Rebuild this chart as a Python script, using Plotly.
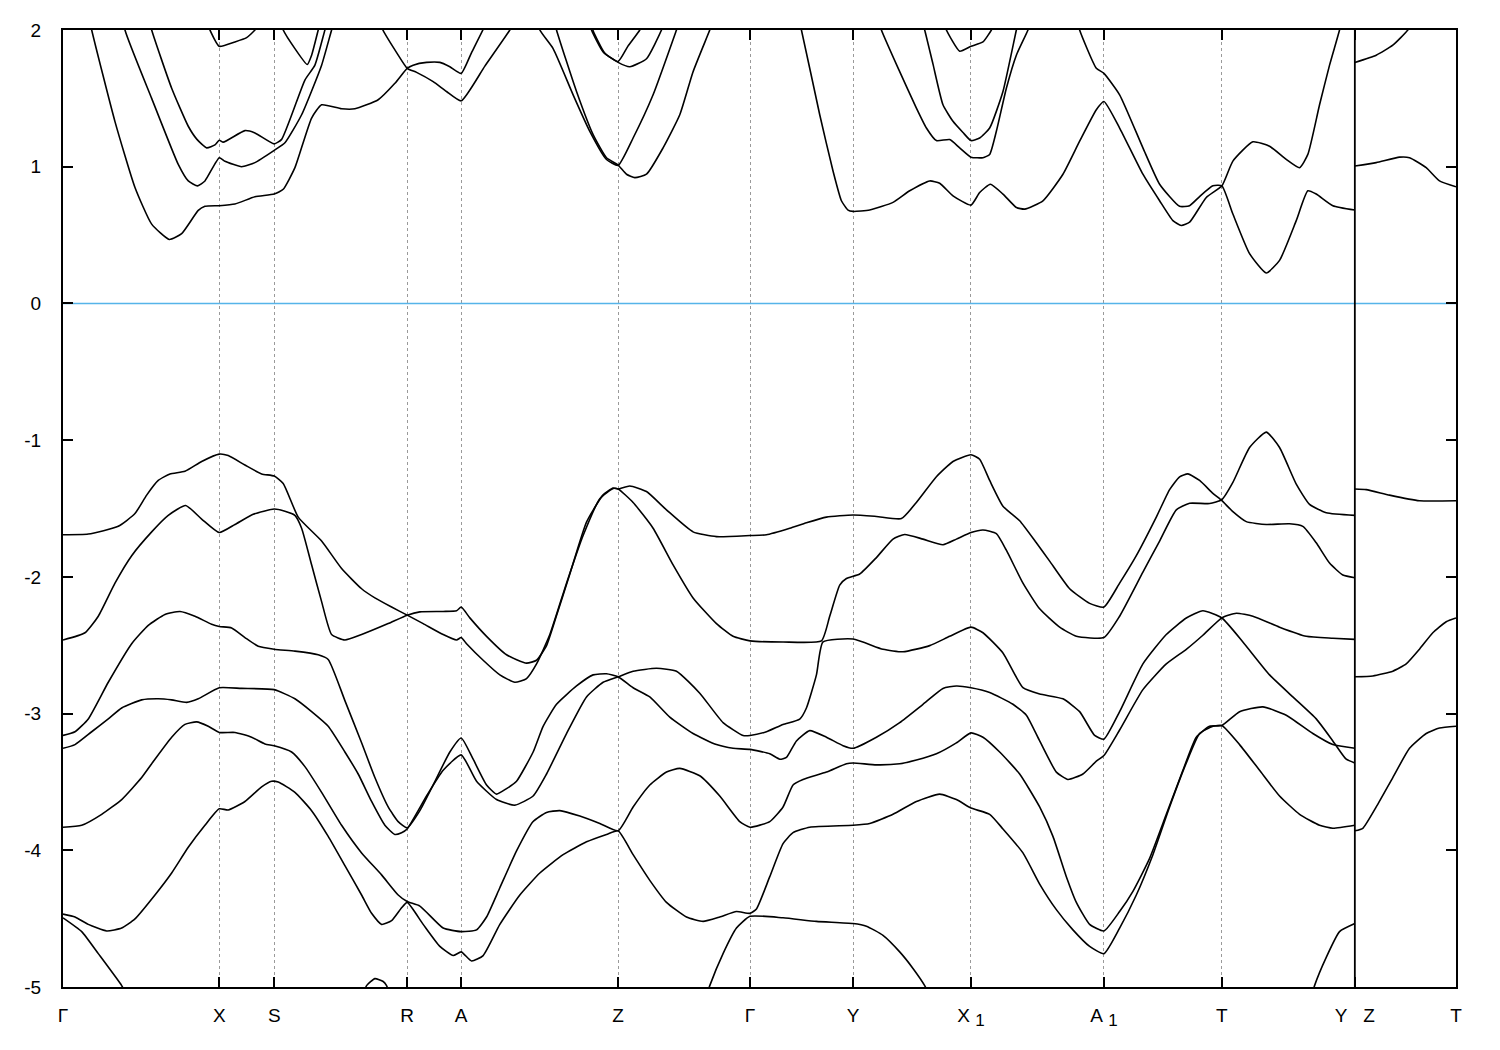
import plotly.graph_objects as go

# ---------------- high-symmetry path ----------------
KPOINT_POS = [0.0, 1.563, 2.113, 3.443, 3.983, 5.553, 6.873, 7.903, 9.083, 10.413, 11.593, 12.923, 13.935]
KPOINT_LBL = ["Γ", "X", "S", "R", "A", "Z", "Γ", "Y",
              "X\u00a0<sub><span style=\"font-size:17px\">1</span></sub>",
              "A\u00a0<sub><span style=\"font-size:17px\">1</span></sub>", "T",
              "Y\u00a0\u00a0\u00a0Z", "T"]
BREAK_K = 12.923
E_TICKS = [-5, -4, -3, -2, -1, 0, 1, 2]
E_TICK_TEXT = ["-5", "-4", "-3", "-2", "-1", "0", "1", "2"]

# ---------------- conduction bands ----------------
CB_A_K = [0.17, 0.287, 0.52, 0.72, 0.887, 1.063, 1.187, 1.353, 1.42, 1.563, 1.72, 1.92, 2.113, 2.203, 2.32, 2.487,
          2.587, 2.787, 2.92, 3.153, 3.32, 3.443, 3.503, 3.637, 3.77, 3.87, 3.983, 4.087, 4.2, 4.27]
CB_A_E = [2.4, 2.0, 1.33, 0.848, 0.58, 0.468, 0.51, 0.68, 0.71, 0.715, 0.727, 0.78, 0.80, 0.835, 0.993, 1.356,
          1.453, 1.424, 1.424, 1.49, 1.61, 1.72, 1.743, 1.763, 1.763, 1.731, 1.683, 1.835, 2.0, 2.12]

CB_B_K = [3.12, 3.2, 3.35, 3.443, 3.537, 3.703, 3.837, 3.983, 4.22, 4.47, 4.55]
CB_B_E = [2.15, 2.0, 1.82, 1.72, 1.69, 1.622, 1.55, 1.482, 1.736, 2.0, 2.1]

CB_C_K = [0.55, 0.62, 0.887, 1.153, 1.253, 1.347, 1.42, 1.563, 1.62, 1.787, 1.92, 2.113, 2.22, 2.387, 2.587,
          2.687, 2.73]
CB_C_E = [2.3, 2.0, 1.50, 1.017, 0.896, 0.86, 0.896, 1.066, 1.04, 1.0, 1.03, 1.12, 1.175, 1.38, 1.743, 2.0, 2.1]

CB_D_K = [0.82, 0.887, 1.087, 1.253, 1.34, 1.437, 1.52, 1.563, 1.603, 1.82, 1.92, 2.113, 2.187, 2.42, 2.52,
          2.62, 2.66]
CB_D_E = [2.2, 2.0, 1.574, 1.296, 1.2, 1.138, 1.16, 1.194, 1.18, 1.264, 1.247, 1.167, 1.2, 1.634, 1.743, 2.0, 2.1]

CB_E_K = [1.42, 1.47, 1.563, 1.72, 1.837, 1.92, 1.97]
CB_E_E = [2.1, 2.0, 1.881, 1.913, 1.944, 2.0, 2.06]

CB_F_K = [2.17, 2.203, 2.32, 2.443, 2.487, 2.553, 2.58]
CB_F_E = [2.08, 2.0, 1.864, 1.748, 1.816, 2.0, 2.08]

CB_G_K = [4.72, 4.77, 4.903, 5.103, 5.27, 5.437, 5.553, 5.703, 5.903, 6.137, 6.17]
CB_G_E = [2.15, 2.0, 1.864, 1.526, 1.259, 1.053, 1.01, 1.21, 1.526, 2.0, 2.07]

CB_H_K = [4.89, 4.937, 5.137, 5.303, 5.437, 5.553, 5.637, 5.72, 5.837, 6.003, 6.17, 6.303, 6.47, 6.51]
CB_H_E = [2.15, 2.0, 1.55, 1.235, 1.066, 1.012, 0.945, 0.92, 0.945, 1.138, 1.38, 1.695, 2.0, 2.08]

CB_I_K = [5.25, 5.287, 5.403, 5.553, 5.65, 5.77, 5.81]
CB_I_E = [2.1, 2.0, 1.84, 1.77, 1.88, 2.0, 2.06]

CB_J_K = [5.27, 5.3, 5.42, 5.553, 5.67, 5.837, 5.987, 6.02]
CB_J_E = [2.1, 2.0, 1.83, 1.763, 1.731, 1.79, 2.0, 2.07]

CB_K_K = [7.35, 7.387, 7.57, 7.703, 7.787, 7.853, 7.903, 8.07, 8.303, 8.47, 8.67, 8.77, 8.903, 9.083, 9.17,
          9.277, 9.403, 9.537, 9.62, 9.803, 10.003, 10.17, 10.337, 10.413, 10.57, 10.803, 10.97, 11.103,
          11.187, 11.27, 11.437, 11.593, 11.703, 11.903, 12.07, 12.237, 12.37, 12.453, 12.57, 12.67, 12.77, 12.8]
CB_K_E = [2.1, 2.0, 1.38, 0.969, 0.751, 0.683, 0.673, 0.683, 0.739, 0.824, 0.896, 0.879, 0.787, 0.719, 0.811,
          0.872, 0.80, 0.702, 0.69, 0.751, 0.945, 1.187, 1.417, 1.477, 1.283, 0.945, 0.751, 0.606,
          0.57, 0.594, 0.775, 0.86, 1.041, 1.182, 1.15, 1.054, 0.993, 1.09, 1.453, 1.743, 2.0, 2.1]

CB_L_K = [10.14, 10.17, 10.337, 10.413, 10.57, 10.803, 10.97, 11.17, 11.27, 11.37, 11.503, 11.593, 11.703,
          11.87, 12.037, 12.17, 12.337, 12.453, 12.537, 12.703, 12.923]
CB_L_E = [2.1, 2.0, 1.72, 1.683, 1.526, 1.138, 0.872, 0.71, 0.715, 0.782, 0.86, 0.86, 0.654,
          0.364, 0.223, 0.315, 0.606, 0.824, 0.80, 0.715, 0.683]

CB_M_K = [8.15, 8.187, 8.37, 8.537, 8.637, 8.737, 8.87, 8.97, 9.083, 9.203, 9.27, 9.337, 9.437, 9.537, 9.653, 9.68]
CB_M_E = [2.1, 2.0, 1.695, 1.429, 1.283, 1.191, 1.199, 1.138, 1.07, 1.066, 1.09, 1.259, 1.574, 1.816, 2.0, 2.07]

CB_N_K = [8.58, 8.62, 8.703, 8.803, 8.903, 9.003, 9.083, 9.17, 9.27, 9.403, 9.537, 9.56]
CB_N_E = [2.1, 2.0, 1.75, 1.453, 1.332, 1.25, 1.191, 1.21, 1.283, 1.55, 2.0, 2.07]

CB_O_K = [8.8, 8.837, 8.97, 9.083, 9.203, 9.287, 9.32]
CB_O_E = [2.08, 2.0, 1.845, 1.881, 1.913, 2.0, 2.06]

CB_P_K = [12.923, 13.137, 13.303, 13.453, 13.49]
CB_P_E = [1.763, 1.816, 1.889, 2.0, 2.05]

CB_Q_K = [12.923, 13.137, 13.37, 13.47, 13.637, 13.77, 13.935]
CB_Q_E = [1.005, 1.03, 1.07, 1.066, 0.993, 0.896, 0.853]

# ---------------- valence bands ----------------
VB1_K = [0, 0.253, 0.553, 0.72, 0.837, 0.953, 1.07, 1.22, 1.387, 1.563, 1.653, 1.82, 1.987, 2.113, 2.203, 2.353,
         2.587, 2.787, 2.987, 3.12, 3.287, 3.443, 3.603, 3.803, 3.937, 3.983, 4.037, 4.203, 4.37, 4.52, 4.637,
         4.737, 4.87, 5.037, 5.203, 5.37, 5.503, 5.553, 5.703, 5.903, 6.103, 6.303, 6.537, 6.703, 6.873, 7.203,
         7.587, 7.67, 7.77, 7.837, 7.97, 8.137, 8.303, 8.42, 8.603, 8.803, 8.937, 9.083, 9.203, 9.337, 9.437,
         9.603, 9.77, 9.97, 10.137, 10.413, 10.57, 10.803, 10.97, 11.137, 11.27, 11.47, 11.593, 11.703, 11.87,
         12.037, 12.17, 12.337, 12.47, 12.637, 12.923]
VB1_E = [-1.692, -1.687, -1.63, -1.537, -1.402, -1.295, -1.247, -1.228, -1.156, -1.102, -1.113, -1.182, -1.247,
         -1.263, -1.317, -1.563, -1.738, -1.939, -2.087, -2.154, -2.221, -2.28, -2.342, -2.422, -2.462, -2.444,
         -2.489, -2.61, -2.717, -2.771, -2.744, -2.637, -2.422, -2.046, -1.698, -1.429, -1.354, -1.357, -1.456,
         -1.644, -1.912, -2.154, -2.342, -2.435, -2.468, -2.476, -2.468, -2.288, -2.06, -2.012, -1.979, -1.859,
         -1.724, -1.69, -1.724, -1.765, -1.724, -1.676, -1.657, -1.684, -1.805, -2.046, -2.234, -2.368, -2.435,
         -2.444, -2.288, -1.966, -1.738, -1.51, -1.462, -1.464, -1.435, -1.309, -1.054, -0.941, -1.054, -1.322,
         -1.47, -1.531, -1.55]

VB2_K = [0, 0.22, 0.353, 0.52, 0.687, 0.887, 1.053, 1.227, 1.387, 1.563, 1.72, 1.903, 2.113, 2.22, 2.32, 2.387,
         2.487, 2.587, 2.687, 2.82, 2.987, 3.253, 3.443, 3.57, 3.803, 3.937, 3.983, 4.07, 4.237, 4.437, 4.637,
         4.737, 4.837, 4.93, 5.07, 5.237, 5.403, 5.503, 5.553, 5.67, 5.837, 6.037, 6.303, 6.537, 6.873, 7.037,
         7.27, 7.437, 7.637, 7.903, 8.137, 8.387, 8.537, 8.737, 8.903, 9.083, 9.17, 9.27, 9.403, 9.57, 9.737,
         9.87, 10.07, 10.27, 10.413, 10.57, 10.737, 10.937, 11.07, 11.17, 11.253, 11.37, 11.503, 11.593, 11.703,
         11.837, 12.037, 12.27, 12.403, 12.537, 12.67, 12.803, 12.923]
VB2_E = [-2.462, -2.409, -2.288, -2.046, -1.845, -1.671, -1.55, -1.478, -1.577, -1.676, -1.617, -1.542, -1.504,
         -1.52, -1.55, -1.644, -1.912, -2.181, -2.422, -2.462, -2.422, -2.342, -2.28, -2.256, -2.253, -2.248,
         -2.221, -2.3, -2.435, -2.57, -2.631, -2.61, -2.503, -2.3, -1.98, -1.6, -1.4, -1.35, -1.357, -1.335,
         -1.376, -1.51, -1.671, -1.706, -1.698, -1.692, -1.644, -1.604, -1.563, -1.547, -1.558, -1.574, -1.456,
         -1.268, -1.156, -1.107, -1.14, -1.295, -1.483, -1.59, -1.751, -1.885, -2.087, -2.194, -2.221, -2.046,
         -1.845, -1.563, -1.362, -1.268, -1.247, -1.295, -1.389, -1.443, -1.523, -1.596, -1.617, -1.612, -1.631,
         -1.751, -1.899, -1.987, -2.006]

VB3_K = [0, 0.12, 0.253, 0.453, 0.687, 0.853, 1.02, 1.17, 1.32, 1.487, 1.563, 1.687, 1.82, 1.953, 2.113, 2.32,
         2.553, 2.653, 2.82, 2.987, 3.12, 3.253, 3.353, 3.443, 3.57, 3.703, 3.87, 3.983, 4.103, 4.237, 4.337,
         4.437, 4.537, 4.703, 4.803, 4.937, 5.137, 5.303, 5.437, 5.553, 5.703, 5.87, 6.07, 6.303, 6.537, 6.703,
         6.873, 7.07, 7.17, 7.237, 7.337, 7.47, 7.637, 7.803, 7.903, 8.137, 8.37, 8.603, 8.803, 8.937, 9.083,
         9.27, 9.503, 9.637, 9.77, 9.937, 10.053, 10.203, 10.337, 10.413, 10.57, 10.803, 11.037, 11.237, 11.403,
         11.593, 11.737, 11.903, 12.17, 12.437, 12.703, 12.923]
VB3_E = [-3.16, -3.133, -3.039, -2.771, -2.489, -2.355, -2.275, -2.253, -2.288, -2.347, -2.363, -2.374, -2.444,
         -2.508, -2.529, -2.543, -2.57, -2.604, -2.905, -3.214, -3.468, -3.683, -3.79, -3.836, -3.71, -3.522,
         -3.281, -3.179, -3.334, -3.522, -3.589, -3.549, -3.495, -3.281, -3.093, -2.932, -2.798, -2.717, -2.709,
         -2.731, -2.811, -2.878, -3.026, -3.146, -3.227, -3.254, -3.262, -3.294, -3.334, -3.321, -3.2, -3.125,
         -3.173, -3.235, -3.254, -3.173, -3.066, -2.932, -2.816, -2.798, -2.811, -2.846, -2.932, -3.012, -3.2,
         -3.428, -3.482, -3.442, -3.348, -3.307, -3.12, -2.825, -2.637, -2.53, -2.427, -2.3, -2.266, -2.288,
         -2.368, -2.435, -2.449, -2.457]

VB4_K = [0, 0.12, 0.287, 0.453, 0.587, 0.787, 0.953, 1.087, 1.237, 1.353, 1.563, 1.787, 2.113, 2.32, 2.487,
         2.653, 2.82, 2.953, 3.087, 3.22, 3.32, 3.387, 3.443, 3.637, 3.803, 3.983, 4.137, 4.337, 4.52, 4.703,
         4.837, 5.037, 5.237, 5.403, 5.553, 5.703, 5.937, 6.137, 6.37, 6.603, 6.803, 6.873, 7.037, 7.203, 7.37,
         7.437, 7.537, 7.603, 7.903, 8.203, 8.403, 8.67, 8.87, 9.083, 9.203, 9.403, 9.603, 9.77, 10.003, 10.17,
         10.32, 10.413, 10.57, 10.803, 11.037, 11.237, 11.403, 11.593, 11.803, 12.07, 12.303, 12.537, 12.703,
         12.837, 12.923]
VB4_E = [-3.254, -3.227, -3.133, -3.039, -2.959, -2.9, -2.892, -2.9, -2.918, -2.892, -2.811, -2.816, -2.825,
         -2.892, -2.986, -3.093, -3.281, -3.442, -3.643, -3.817, -3.884, -3.871, -3.844, -3.603, -3.415, -3.302,
         -3.495, -3.629, -3.67, -3.603, -3.442, -3.146, -2.878, -2.771, -2.731, -2.69, -2.669, -2.69, -2.851,
         -3.066, -3.16, -3.16, -3.133, -3.08, -3.04, -2.959, -2.717, -2.476, -2.455, -2.53, -2.548, -2.503,
         -2.435, -2.368, -2.409, -2.557, -2.811, -2.857, -2.892, -2.986, -3.16, -3.187, -2.986, -2.637, -2.422,
         -2.301, -2.248, -2.301, -2.476, -2.717, -2.878, -3.039, -3.2, -3.334, -3.361]

VB5_K = [0, 0.187, 0.387, 0.587, 0.787, 0.92, 1.087, 1.22, 1.337, 1.453, 1.563, 1.72, 1.887, 2.02, 2.113, 2.287,
         2.42, 2.587, 2.787, 2.987, 3.187, 3.353, 3.443, 3.57, 3.803, 3.983, 4.137, 4.237, 4.37, 4.537, 4.703,
         4.837, 4.97, 5.17, 5.37, 5.553, 5.703, 5.87, 6.037, 6.17, 6.37, 6.57, 6.77, 6.873, 7.07, 7.203, 7.303,
         7.403, 7.637, 7.837, 7.903, 8.137, 8.37, 8.537, 8.737, 8.937, 9.083, 9.203, 9.37, 9.57, 9.77, 9.903,
         10.037, 10.137, 10.27, 10.413, 10.57, 10.703, 10.87, 11.037, 11.203, 11.337, 11.47, 11.593, 11.77,
         12.003, 12.237, 12.503, 12.703, 12.923]
VB5_E = [-3.831, -3.817, -3.737, -3.629, -3.468, -3.334, -3.173, -3.079, -3.061, -3.093, -3.138, -3.138, -3.173,
         -3.222, -3.235, -3.281, -3.388, -3.576, -3.817, -4.019, -4.18, -4.327, -4.375, -4.408, -4.569, -4.595,
         -4.582, -4.488, -4.274, -4.005, -3.79, -3.723, -3.71, -3.75, -3.804, -3.857, -3.683, -3.522, -3.428,
         -3.401, -3.455, -3.603, -3.79, -3.831, -3.79, -3.683, -3.522, -3.482, -3.428, -3.367, -3.361, -3.375,
         -3.367, -3.34, -3.294, -3.214, -3.141, -3.173, -3.281, -3.442, -3.683, -3.898, -4.193, -4.381, -4.542,
         -4.59, -4.448, -4.3, -4.059, -3.737, -3.415, -3.173, -3.093, -3.087, -2.986, -2.951, -3.012, -3.146,
         -3.227, -3.254]

VB6_K = [0, 0.12, 0.253, 0.437, 0.587, 0.72, 0.92, 1.087, 1.253, 1.42, 1.563, 1.653, 1.82, 1.987, 2.087, 2.153,
         2.32, 2.487, 2.653, 2.82, 2.987, 3.087, 3.187, 3.287, 3.387, 3.443, 3.603, 3.77, 3.903, 3.983, 4.087,
         4.203, 4.37, 4.57, 4.77, 5.003, 5.237, 5.437, 5.553, 5.703, 5.87, 6.037, 6.237, 6.403, 6.57, 6.737,
         6.873, 6.937, 7.07, 7.203, 7.303, 7.47, 7.903, 8.07, 8.303, 8.537, 8.77, 8.937, 9.083, 9.27, 9.403,
         9.603, 9.77, 9.937, 10.103, 10.27, 10.413, 10.57, 10.737, 10.903, 11.07, 11.237, 11.37, 11.503, 11.593,
         11.77, 11.97, 12.17, 12.37, 12.57, 12.703, 12.923]
VB6_E = [-4.467, -4.488, -4.542, -4.59, -4.569, -4.502, -4.327, -4.166, -3.978, -3.817, -3.697, -3.705, -3.643,
         -3.536, -3.495, -3.501, -3.576, -3.71, -3.898, -4.112, -4.327, -4.461, -4.542, -4.515, -4.421, -4.381,
         -4.542, -4.703, -4.77, -4.743, -4.81, -4.77, -4.542, -4.327, -4.166, -4.032, -3.938, -3.884, -3.857,
         -4.032, -4.22, -4.381, -4.488, -4.52, -4.488, -4.448, -4.461, -4.429, -4.193, -3.951, -3.871, -3.831,
         -3.817, -3.804, -3.737, -3.643, -3.589, -3.629, -3.691, -3.737, -3.844, -4.019, -4.247, -4.434, -4.582,
         -4.703, -4.756, -4.569, -4.327, -4.032, -3.683, -3.361, -3.146, -3.093, -3.087, -3.227, -3.415, -3.603,
         -3.737, -3.817, -3.839, -3.817]

VB7_K = [0, 0.187, 0.353, 0.587, 0.65]
VB7_E = [-4.494, -4.595, -4.756, -4.99, -5.08]

VB8_K = [3.0, 3.037, 3.12, 3.203, 3.237, 3.27]
VB8_E = [-5.06, -4.99, -4.939, -4.96, -4.99, -5.06]

VB9_K = [6.43, 6.47, 6.603, 6.737, 6.873, 7.203, 7.537, 7.903, 8.037, 8.203, 8.37, 8.503, 8.62, 8.66]
VB9_E = [-5.08, -4.99, -4.756, -4.569, -4.483, -4.494, -4.52, -4.536, -4.555, -4.622, -4.743, -4.864, -4.99, -5.05]

VB10_K = [12.49, 12.52, 12.637, 12.77, 12.923]
VB10_E = [-5.07, -4.99, -4.783, -4.595, -4.536]

ZT1_K = [12.923, 13.037, 13.27, 13.57, 13.935]
ZT1_E = [-1.357, -1.362, -1.402, -1.443, -1.443]

ZT2_K = [12.923, 13.103, 13.303, 13.437, 13.57, 13.703, 13.837, 13.935]
ZT2_E = [-2.731, -2.725, -2.69, -2.637, -2.529, -2.409, -2.328, -2.301]

ZT3_K = [12.923, 13.003, 13.137, 13.303, 13.47, 13.637, 13.77, 13.935]
ZT3_E = [-3.857, -3.839, -3.683, -3.468, -3.254, -3.146, -3.106, -3.093]

BANDS = [
    (CB_A_K, CB_A_E), (CB_B_K, CB_B_E), (CB_C_K, CB_C_E), (CB_D_K, CB_D_E), (CB_E_K, CB_E_E),
    (CB_F_K, CB_F_E), (CB_G_K, CB_G_E), (CB_H_K, CB_H_E), (CB_I_K, CB_I_E), (CB_J_K, CB_J_E),
    (CB_K_K, CB_K_E), (CB_L_K, CB_L_E), (CB_M_K, CB_M_E), (CB_N_K, CB_N_E), (CB_O_K, CB_O_E),
    (CB_P_K, CB_P_E), (CB_Q_K, CB_Q_E),
    (VB1_K, VB1_E), (VB2_K, VB2_E), (VB3_K, VB3_E), (VB4_K, VB4_E), (VB5_K, VB5_E), (VB6_K, VB6_E),
    (VB7_K, VB7_E), (VB8_K, VB8_E), (VB9_K, VB9_E), (VB10_K, VB10_E),
    (ZT1_K, ZT1_E), (ZT2_K, ZT2_E), (ZT3_K, ZT3_E),
]

K_MIN, K_MAX = KPOINT_POS[0], KPOINT_POS[-1]
E_MIN, E_MAX = -5, 2

fig = go.Figure()

# Fermi level
fig.add_trace(go.Scatter(x=[K_MIN, K_MAX], y=[0, 0], mode="lines",
                         line=dict(color="#56B4E9", width=1.6), hoverinfo="skip", showlegend=False))

for kk, ee in BANDS:
    fig.add_trace(go.Scatter(x=kk, y=ee, mode="lines",
                             line=dict(color="black", width=1.6, shape="spline", smoothing=0.5),
                             hoverinfo="skip", showlegend=False))

# discontinuity Y|Z
fig.add_trace(go.Scatter(x=[BREAK_K, BREAK_K], y=[E_MIN, E_MAX], mode="lines",
                         line=dict(color="black", width=1.8), hoverinfo="skip", showlegend=False))

fig.update_layout(
    width=1484, height=1034,
    margin=dict(l=55, r=36, t=20, b=50),
    paper_bgcolor="white", plot_bgcolor="white",
    font=dict(family="Liberation Sans, Arial, sans-serif", size=19, color="black"),
    showlegend=False,
)
fig.update_xaxes(
    range=[K_MIN, K_MAX], tickmode="array", tickvals=KPOINT_POS, ticktext=KPOINT_LBL,
    showline=True, linecolor="black", linewidth=2, mirror="ticks",
    ticks="inside", ticklen=10, tickwidth=1.5, tickcolor="black",
    showgrid=True, gridcolor="#9a9a9a", gridwidth=1, griddash="3px,3px",
    zeroline=False, ticklabelstandoff=10,
)
fig.update_yaxes(
    range=[E_MIN, E_MAX], tickmode="array", tickvals=E_TICKS, ticktext=E_TICK_TEXT,
    showline=True, linecolor="black", linewidth=2, mirror="ticks",
    ticks="inside", ticklen=10, tickwidth=1.5, tickcolor="black",
    showgrid=False, zeroline=False, ticklabelstandoff=16,
)

fig.write_html("out.html")
